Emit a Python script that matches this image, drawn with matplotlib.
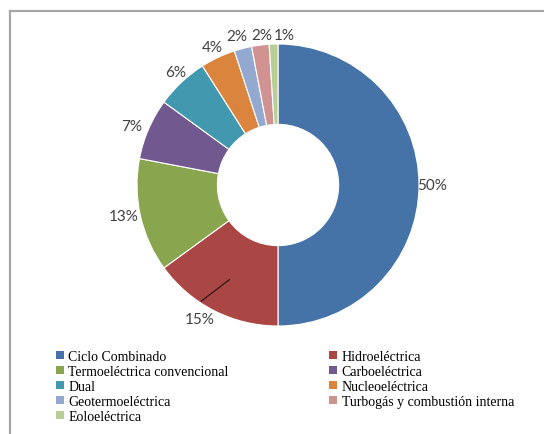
import numpy as np
import matplotlib
matplotlib.use("Agg")
import matplotlib.pyplot as plt
from matplotlib.patches import Patch
from matplotlib.lines import Line2D

categories = [
    "Ciclo Combinado",
    "Hidroeléctrica",
    "Termoeléctrica convencional",
    "Carboeléctrica",
    "Dual",
    "Nucleoeléctrica",
    "Geotermoeléctrica",
    "Turbogás y combustión interna",
    "Eoloeléctrica",
]
shares = [50, 15, 13, 7, 6, 4, 2, 2, 1]
colors = ["#4573A8", "#AA4643", "#89A54E", "#71588F", "#4198AF",
          "#DB843D", "#93A9CF", "#D19392", "#B9CD96"]

W, H = 544, 435
fig = plt.figure(figsize=(W / 100, H / 100), dpi=100)

# chart frame (only top and left edges fall inside the canvas)
fig.add_artist(Line2D([10 / W, 10 / W], [0, 1 - 12 / H], transform=fig.transFigure,
                      color="#A6A6A6", lw=1.6))
fig.add_artist(Line2D([10 / W, 1], [1 - 12 / H, 1 - 12 / H], transform=fig.transFigure,
                      color="#A6A6A6", lw=1.6))

cx, cy, R = 278, 186, 141
ax = fig.add_axes([(cx - R) / W, 1 - (cy + R) / H, 2 * R / W, 2 * R / H])
ax.axis("off")

wedges, _ = ax.pie(shares, colors=colors, startangle=90, counterclock=False,
                   radius=1.0, wedgeprops=dict(width=0.57, edgecolor="white", linewidth=0.8))
ax.set_xlim(-1, 1)
ax.set_ylim(-1, 1)
ax.set_aspect("equal")

# label placement: radial distance and angular nudge (degrees) per slice
label_r = [1.09, 1.10, 1.115, 1.12, 1.08, 1.085, 1.095, 1.07, 1.065]
label_shift = [0.0, -3.5, -1.2, 1.5, -1.1, 0.4, 1.0, -1.1, -4.1]

lab_font = dict(family="Lato", fontsize=11, color="#404040")
for i, (w, v) in enumerate(zip(wedges, shares)):
    mid = (w.theta1 + w.theta2) / 2
    ang = np.deg2rad(mid + label_shift[i])
    r = label_r[i]
    if i == 1:
        m = np.deg2rad(mid)
        a2 = np.deg2rad(mid - 6.5)
        ax.plot([0.75 * np.cos(m), 0.99 * np.cos(a2)],
                [0.75 * np.sin(m), 0.99 * np.sin(a2)],
                color="#3a1a1a", lw=1.0, solid_capstyle="butt")
    ax.text(r * np.cos(ang), r * np.sin(ang), f"{v}%", ha="center", va="center",
            **lab_font)

# legend arranged in two columns, filled row by row
handles = [Patch(facecolor=c, edgecolor="none") for c in colors]
leg_kw = dict(frameon=False, loc="upper left", borderpad=0, borderaxespad=0,
              handlelength=0.55, handleheight=0.55, handletextpad=0.35,
              labelspacing=0.14, prop=dict(family="Liberation Serif", size=10))
left = [0, 2, 4, 6, 8]
right = [1, 3, 5, 7]
fig.legend([handles[i] for i in left], [categories[i] for i in left],
           bbox_to_anchor=(56 / W, 1 - 351 / H), **leg_kw)
fig.legend([handles[i] for i in right], [categories[i] for i in right],
           bbox_to_anchor=(329 / W, 1 - 351 / H), **leg_kw)

fig.savefig("out.png", dpi=100)
